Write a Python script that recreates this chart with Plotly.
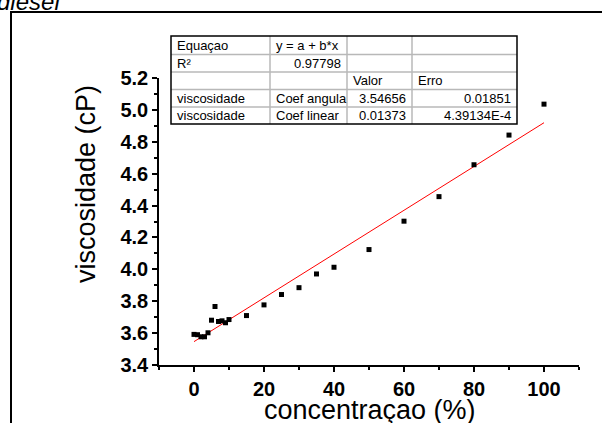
import plotly.graph_objects as go

# ---- data ----
conc = [0, 1, 2, 3, 4, 5, 6, 7, 8, 9, 10, 15, 20, 25, 30, 35, 40, 50, 60, 70, 80, 90, 100]
visc = [3.592, 3.590, 3.577, 3.577, 3.602, 3.681, 3.767, 3.673, 3.677, 3.665, 3.685,
        3.710, 3.777, 3.842, 3.885, 3.971, 4.013, 4.124, 4.302, 4.456, 4.656, 4.842, 5.036]
fit_a = 3.54656
fit_b = 0.01373
fit_x = [0, 100]

x_ticks = [0, 20, 40, 60, 80, 100]
y_ticks = [3.4, 3.6, 3.8, 4.0, 4.2, 4.4, 4.6, 4.8, 5.0, 5.2]

table_rows = [
    ["Equaçao", "y = a + b*x", "", ""],
    ["R²", "0.97798", "", ""],
    ["", "", "Valor", "Erro"],
    ["viscosidade", "Coef angula", "3.54656", "0.01851"],
    ["viscosidade", "Coef linear", "0.01373", "4.39134E-4"],
]

# ---- layout geometry (pixels) ----
W, H = 602, 423
L, R, T, B = 159, 23, 78, 58
PW, PH = W - L - R, H - T - B


def px(xp):
    return (xp - L) / PW


def py(yp):
    return (T + PH - yp) / PH


fig = go.Figure()
fig.add_trace(go.Scatter(x=fit_x, y=[fit_a + fit_b * v for v in fit_x], mode="lines",
                         line=dict(color="red", width=1), showlegend=False))
fig.add_trace(go.Scatter(x=conc, y=visc, mode="markers",
                         marker=dict(symbol="square", size=5, color="black"),
                         showlegend=False))

ax_common = dict(showline=True, linecolor="black", linewidth=1.5, ticks="outside",
                 ticklen=5, tickwidth=1.5, tickcolor="black", showgrid=False,
                 zeroline=False, mirror=False,
                 tickfont=dict(family="Arial", size=20, color="black", weight="bold"))

fig.update_xaxes(range=[-10, 110], tickvals=x_ticks, ticktext=[str(v) for v in x_ticks],
                 minor=dict(ticks="outside", ticklen=3, dtick=10, tick0=0, tickcolor="black"),
                 **ax_common)
fig.update_yaxes(range=[3.4, 5.2], tickvals=y_ticks, ticktext=[f"{v:.1f}" for v in y_ticks],
                 minor=dict(ticks="outside", ticklen=3, dtick=0.1, tick0=3.4, tickcolor="black"),
                 **ax_common)

shapes = []
annotations = []

# outer frame (partially outside view)
shapes.append(dict(type="rect", xref="paper", yref="paper",
                   x0=px(11), x1=px(640), y0=py(460), y1=py(12),
                   line=dict(color="black", width=2), fillcolor="rgba(0,0,0,0)"))

# table
col_edges = [171, 270, 347, 412, 517]
row_edges = [36, 54.5, 72, 89.5, 107, 124]
for xe in col_edges[1:-1]:
    shapes.append(dict(type="line", xref="paper", yref="paper", x0=px(xe), x1=px(xe),
                       y0=py(row_edges[0]), y1=py(row_edges[-1]),
                       line=dict(color="#b8b8b8", width=1.5)))
for ye in row_edges[1:-1]:
    shapes.append(dict(type="line", xref="paper", yref="paper", x0=px(col_edges[0]),
                       x1=px(col_edges[-1]), y0=py(ye), y1=py(ye),
                       line=dict(color="#b8b8b8", width=1.5)))
shapes.append(dict(type="rect", xref="paper", yref="paper", x0=px(col_edges[0]),
                   x1=px(col_edges[-1]), y0=py(row_edges[-1]), y1=py(row_edges[0]),
                   line=dict(color="black", width=1.5), fillcolor="rgba(0,0,0,0)"))


def is_num(s):
    try:
        float(s)
        return True
    except ValueError:
        return False


for ri, row in enumerate(table_rows):
    yc = (row_edges[ri] + row_edges[ri + 1]) / 2
    for ci, txt in enumerate(row):
        if not txt:
            continue
        if is_num(txt):
            xa, xpos = "right", col_edges[ci + 1] - 4
        else:
            xa, xpos = "left", col_edges[ci] + 4
        annotations.append(dict(text=txt, xref="paper", yref="paper", x=px(xpos), y=py(yc),
                                xanchor=xa, yanchor="middle", showarrow=False,
                                font=dict(family="Arial", size=13, color="black")))

# axis titles
annotations.append(dict(text="concentraçao (%)", xref="paper", yref="paper",
                        x=px(370), y=py(410), xanchor="center", yanchor="middle",
                        showarrow=False, borderpad=0,
                        font=dict(family="Arial", size=27, color="black")))
annotations.append(dict(text="viscosidade (cP)", xref="paper", yref="paper",
                        x=px(86), y=py(184), xanchor="center", yanchor="middle",
                        textangle=-90, showarrow=False,
                        font=dict(family="Arial", size=27, color="black")))
# cut-off caption at the top left
annotations.append(dict(text="<i>diesel</i>", xref="paper", yref="paper",
                        x=px(62), y=py(17), xanchor="right", yanchor="bottom",
                        showarrow=False, font=dict(family="Arial", size=24, color="black")))

fig.update_layout(width=W, height=H, margin=dict(l=L, r=R, t=T, b=B),
                  paper_bgcolor="white", plot_bgcolor="white",
                  shapes=shapes, annotations=annotations, showlegend=False)

fig.write_html("out.html", config={"displayModeBar": False},
               post_script="document.body.style.margin='0';document.body.style.overflow='hidden';")
